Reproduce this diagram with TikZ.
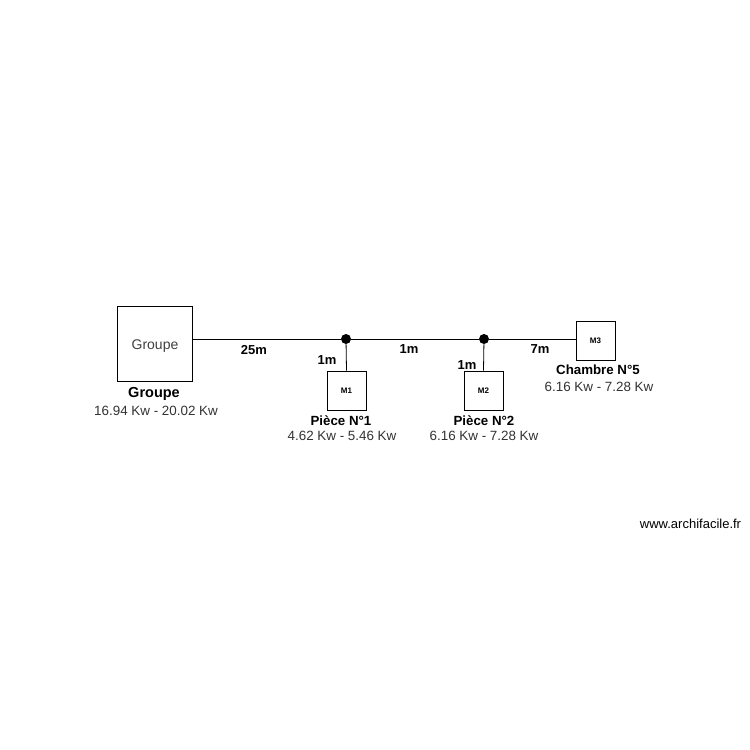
\documentclass[tikz,border=0pt]{standalone}
\usepackage{fontspec}
\setmainfont{Liberation Sans}
\begin{document}
\begin{tikzpicture}[x=1pt,y=-1pt,
  box/.style={draw,line width=0.8pt,minimum width=#1,minimum height=#1,inner sep=0pt,anchor=center},
  dotn/.style={circle,fill=black,minimum size=10pt,inner sep=0pt},
  wire/.style={line width=0.8pt},
  lbl/.style={font=\fontsize{13}{15}\selectfont\bfseries,inner sep=0pt},
  val/.style={font=\fontsize{13.4}{15}\selectfont,text=black!80,inner sep=0pt},
  small/.style={font=\fontsize{8}{9}\selectfont\bfseries,inner sep=0pt}]
\useasboundingbox[fill=white] (0,0) rectangle (750,750);
\node[box=75pt] (G) at (154.5,343.5) {};
\node[font=\fontsize{14}{16}\selectfont,text=black!75,inner sep=0pt] (Gt) at (155,346) {Groupe};
\node[dotn] (d1) at (346,339) {};
\node[dotn] (d2) at (484,339) {};
\node[box=39pt,small] (M1) at (346.5,390.5) {M1};
\node[box=39pt,small] (M2) at (483.5,390.5) {M2};
\node[box=39pt,small] (M3) at (595.5,340.5) {M3};
\coordinate (gr) at (G.east |- d1);
\draw[wire] (gr) -- (d1) -- (d2) -- (M3.west |- d2);
\draw[wire] (d1) -- (M1.north);
\draw[wire] (d2) -- (M2.north);
\node[lbl] (l25) at (254,350) {25m};
\node[lbl] (l1a) at (327,360) {1m};
\node[lbl] (l1b) at (409,349) {1m};
\node[lbl] (l1c) at (467,365) {1m};
\node[lbl] (l7) at (540,349) {7m};
\node[lbl,font=\fontsize{14.5}{16}\selectfont\bfseries] (tG) at (154,394) {Groupe};
\node[val] (vG) at (156,411) {16.94 Kw - 20.02 Kw};
\node[lbl,font=\fontsize{13.3}{15}\selectfont\bfseries] (t1) at (341,421) {Pièce N°1};
\node[val] (v1) at (342,436) {4.62 Kw - 5.46 Kw};
\node[lbl,font=\fontsize{13.3}{15}\selectfont\bfseries] (t2) at (484,421) {Pièce N°2};
\node[val] (v2) at (484,436) {6.16 Kw - 7.28 Kw};
\node[lbl,font=\fontsize{13.3}{15}\selectfont\bfseries] (t3) at (598,370) {Chambre N°5};
\node[val] (v3) at (599,387) {6.16 Kw - 7.28 Kw};
\node[font=\fontsize{13}{15}\selectfont,inner sep=0pt] (w) at (690.5,524) {www.archifacile.fr};
\end{tikzpicture}
\end{document}
